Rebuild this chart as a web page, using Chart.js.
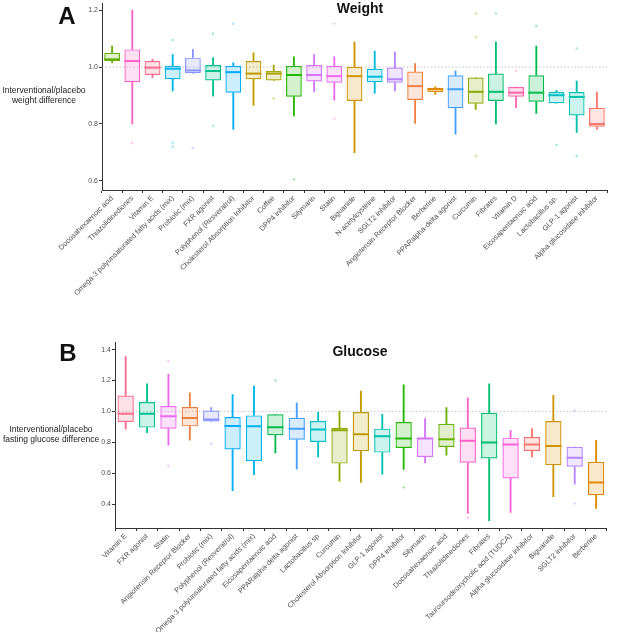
<!DOCTYPE html>
<html>
<head>
<meta charset="utf-8">
<script src="https://cdn.jsdelivr.net/npm/chart.js@4.4.1/dist/chart.umd.min.js"></script>
<style>
  body { margin: 0; background: #fff; overflow: hidden; }
  .panel { position: absolute; left: 0; width: 617px; }
  #panelA { top: -7px; height: 333px; }
  #panelB { top: 330px; height: 302px; }
</style>
</head>
<body>
<div class="panel" id="panelA"><canvas id="weightChart"></canvas></div>
<div class="panel" id="panelB"><canvas id="glucoseChart"></canvas></div>
<script>
// ---------- A: weight ----------
const weightDrugs = [
  "Docosahexaenoic acid", "Thiazolidinediones", "Vitamin E",
  "Omega-3 polyunsaturated fatty acids (mix)", "Probiotic (mix)", "FXR agonist",
  "Polyphenol (Resveratrol)", "Cholesterol Absorption Inhibitor", "Coffee",
  "DPP4 inhibitor", "Silymarin", "Statin", "Biguanide", "N-acetylcysteine",
  "SGLT2 inhibitor", "Angiotensin Receptor Blocker", "Berberine",
  "PPARalpha-delta agonist", "Curcumin", "Fibrates", "Vitamin D",
  "Eicosapentaenoic acid", "Lactobacillus sp.", "GLP-1 agonist",
  "Alpha glucosidase inhibitor"
];
const weightLow    = [1.015, 0.800, 0.963, 0.916, 0.978, 0.898, 0.781, 0.865, 0.953, 0.828, 0.913, 0.884, 0.699, 0.908, 0.916, 0.802, 0.904, 0.764, 0.851, 0.800, 0.857, 0.837, 0.873, 0.770, 0.781];
const weightQ1     = [1.021, 0.947, 0.972, 0.957, 0.978, 0.953, 0.910, 0.957, 0.953, 0.896, 0.949, 0.945, 0.881, 0.947, 0.945, 0.884, 0.912, 0.855, 0.871, 0.881, 0.896, 0.878, 0.873, 0.830, 0.790];
const weightMedian = [1.027, 1.021, 0.998, 0.994, 0.988, 0.986, 0.982, 0.977, 0.977, 0.972, 0.972, 0.968, 0.968, 0.966, 0.957, 0.933, 0.922, 0.922, 0.913, 0.913, 0.910, 0.910, 0.901, 0.895, 0.800];
const weightQ3     = [1.050, 1.062, 1.021, 1.004, 1.033, 1.007, 1.004, 1.021, 0.986, 1.004, 1.007, 1.004, 1.001, 0.994, 0.998, 0.984, 0.927, 0.971, 0.963, 0.977, 0.930, 0.971, 0.912, 0.912, 0.857];
const weightHigh   = [1.074, 1.200, 1.027, 1.044, 1.062, 1.033, 1.015, 1.050, 1.007, 1.036, 1.044, 1.036, 1.088, 1.056, 1.053, 1.012, 0.931, 0.986, 0.963, 1.088, 0.930, 1.074, 0.918, 0.951, 0.912];
const weightOutliers = [
  [], [0.732], [], [1.095, 0.734, 0.720], [0.715], [1.117, 0.793], [1.152], [], [0.890],
  [0.606], [], [1.153, 0.819], [], [], [], [], [], [], [1.188, 1.105, 0.688], [1.188],
  [0.986], [1.144], [0.726], [1.065, 0.688], []
];
const weightTicks = [0.6, 0.8, 1.0, 1.2];

// ---------- B: fasting glucose ----------
const glucoseDrugs = [
  "Vitamin E", "FXR agonist", "Statin", "Angiotensin Receptor Blocker", "Probiotic (mix)",
  "Polyphenol (Resveratrol)", "Omega-3 polyunsaturated fatty acids (mix)",
  "Eicosapentaenoic acid", "PPARalpha-delta agonist", "Lactobacillus sp", "Curcumin",
  "Cholesterol Absorption Inhibitor", "GLP-1 agonist", "DPP4 inhibitor", "Silymarin",
  "Docosahexaenoic acid", "Thiazolidinediones", "Fibrates",
  "Tauroursodeoxycholic acid (TUDCA)", "Alpha glucosidase inhibitor", "Biguanide",
  "SGLT2 inhibitor", "Berberine"
];
const glucoseLow    = [0.884, 0.862, 0.781, 0.813, 0.935, 0.486, 0.591, 0.731, 0.626, 0.705, 0.548, 0.540, 0.594, 0.624, 0.667, 0.716, 0.340, 0.292, 0.346, 0.705, 0.447, 0.529, 0.372];
const glucoseQ1     = [0.931, 0.895, 0.888, 0.903, 0.935, 0.753, 0.677, 0.845, 0.817, 0.802, 0.662, 0.742, 0.733, 0.763, 0.705, 0.770, 0.667, 0.695, 0.566, 0.744, 0.652, 0.641, 0.458];
const glucoseMedian = [0.985, 0.985, 0.968, 0.957, 0.948, 0.905, 0.903, 0.897, 0.888, 0.882, 0.877, 0.852, 0.839, 0.824, 0.824, 0.819, 0.809, 0.798, 0.785, 0.785, 0.776, 0.699, 0.540];
const glucoseQ3     = [1.103, 1.060, 1.034, 1.028, 1.006, 0.963, 0.974, 0.981, 0.959, 0.938, 0.892, 0.996, 0.888, 0.931, 0.830, 0.920, 0.895, 0.991, 0.830, 0.834, 0.938, 0.770, 0.673];
const glucoseHigh   = [1.355, 1.178, 1.239, 1.120, 1.024, 1.108, 1.163, 0.981, 1.056, 0.996, 1.002, 1.131, 0.981, 1.172, 0.953, 1.024, 1.088, 1.178, 0.877, 0.888, 1.103, 0.770, 0.813];
const glucoseOutliers = [
  [], [], [1.325, 0.647], [], [0.791], [], [], [1.200], [], [], [], [], [], [0.508], [],
  [], [0.312], [], [], [], [], [1.006, 0.404], []
];
const glucoseTicks = [0.4, 0.6, 0.8, 1.0, 1.2, 1.4];

const referenceValue = 1.0;

// every intervention, alphabetical, gets one hue of the default ggplot palette
const allDrugs = [
  "Alpha glucosidase inhibitor", "Angiotensin Receptor Blocker", "Berberine", "Biguanide",
  "Cholesterol Absorption Inhibitor", "Coffee", "Curcumin", "Docosahexaenoic acid",
  "DPP4 inhibitor", "Eicosapentaenoic acid", "Fibrates", "FXR agonist", "GLP-1 agonist",
  "Lactobacillus sp.", "N-acetylcysteine", "Omega-3 polyunsaturated fatty acids (mix)",
  "Polyphenol (Resveratrol)", "PPARalpha-delta agonist", "Probiotic (mix)", "SGLT2 inhibitor",
  "Silymarin", "Statin", "Tauroursodeoxycholic acid (TUDCA)", "Thiazolidinediones",
  "Vitamin D", "Vitamin E"
];

// hcl(h, c, l) -> rgb, same maths as R's hcl()
function hcl(h, c, l) {
  const hr = h * Math.PI / 180;
  const u = c * Math.cos(hr), v = c * Math.sin(hr);
  const Y = 100 * Math.pow((l + 16) / 116, 3);
  const t = 13 * l;
  const uu = u / t + 0.1978398, vv = v / t + 0.4683363;
  const X = 9 * Y * uu / (4 * vv);
  const Z = -X / 3 - 5 * Y + 3 * Y / vv;
  const g = (x) => x > 0.00304 ? 1.055 * Math.pow(x, 1 / 2.4) - 0.055 : 12.92 * x;
  const to = (x) => Math.round(255 * Math.min(1, Math.max(0, g(x / 100))));
  return [
    to(3.240479 * X - 1.537150 * Y - 0.498535 * Z),
    to(-0.969256 * X + 1.875992 * Y + 0.041556 * Z),
    to(0.055648 * X - 0.204043 * Y + 1.057311 * Z)
  ];
}

function drugColor(name, alpha) {
  let i = allDrugs.indexOf(name);
  if (i < 0) i = allDrugs.indexOf(name + ".");
  const rgb = hcl(15 + i * 360 / allDrugs.length, 100, 65);
  return `rgba(${rgb[0]},${rgb[1]},${rgb[2]},${alpha})`;
}

const font = "'Liberation Sans', Arial, sans-serif";

// dotted line at 1.0 plus the panel letter, title and y caption
const panelText = {
  id: 'panelText',
  beforeDatasetsDraw(chart) {
    const { ctx, chartArea, scales } = chart;
    const y = scales.y.getPixelForValue(referenceValue);
    ctx.save();
    ctx.strokeStyle = '#b5b5b5';
    ctx.lineWidth = 0.8;
    ctx.setLineDash([1.5, 2]);
    ctx.beginPath();
    ctx.moveTo(chartArea.left, y);
    ctx.lineTo(chartArea.right, y);
    ctx.stroke();
    ctx.restore();
  },
  afterDraw(chart, args, opts) {
    const ctx = chart.ctx;
    ctx.save();
    ctx.textAlign = 'center';
    ctx.textBaseline = 'middle';
    ctx.fillStyle = '#111';
    ctx.font = `bold 24px ${font}`;
    ctx.fillText(opts.letter, opts.letterX, opts.letterY);
    ctx.font = `bold 14px ${font}`;
    ctx.fillText(opts.title, opts.titleX, opts.titleY);
    ctx.font = `8.5px ${font}`;
    ctx.fillStyle = '#1a1a1a';
    opts.caption.forEach((line, k) => ctx.fillText(line, opts.captionX, opts.captionY + k * 10));
    ctx.restore();
  }
};

function boxChart(canvasId, drugs, low, q1, med, q3, high, outliers, ticks, dims, text) {
  const line = drugs.map(d => drugColor(d, 1));
  const points = [], pointColors = [];
  outliers.forEach((vals, i) => vals.forEach(v => {
    points.push({ x: drugs[i], y: v });
    pointColors.push(drugColor(drugs[i], 0.35));
  }));

  return new Chart(document.getElementById(canvasId), {
    data: {
      labels: drugs,
      datasets: [
        {
          type: 'line', data: med, showLine: false,
          pointStyle: 'line', pointRadius: dims.half, pointHoverRadius: dims.half,
          pointBorderWidth: 2, pointBorderColor: line
        },
        {
          type: 'bar', data: drugs.map((d, i) => [q1[i], q3[i]]), grouped: false,
          backgroundColor: drugs.map(d => drugColor(d, 0.2)), borderColor: line,
          borderWidth: 1.2, borderSkipped: false,
          barPercentage: dims.box, categoryPercentage: 1
        },
        {
          type: 'bar', data: drugs.map((d, i) => [low[i], q1[i]]), grouped: false,
          backgroundColor: line, barThickness: 1.2
        },
        {
          type: 'bar', data: drugs.map((d, i) => [q3[i], high[i]]), grouped: false,
          backgroundColor: line, barThickness: 1.2
        },
        {
          type: 'line', data: points, showLine: false,
          pointRadius: 1.3, pointBorderWidth: 0, pointBackgroundColor: pointColors
        }
      ]
    },
    options: {
      responsive: true,
      maintainAspectRatio: false,
      animation: false,
      events: [],
      layout: { padding: { top: dims.top, right: 5, left: 0, bottom: 0 } },
      plugins: {
        legend: { display: false },
        tooltip: { enabled: false },
        panelText: text
      },
      scales: {
        x: {
          type: 'category',
          offset: true,
          afterFit: (s) => { s.height = dims.xHeight; },
          border: { display: true, color: '#333', width: 1 },
          grid: { display: true, drawOnChartArea: false, drawTicks: true, tickLength: 3, color: '#333' },
          ticks: {
            autoSkip: false, minRotation: 45, maxRotation: 45, padding: 1,
            color: '#4d4d4d', font: { family: font, size: 7.3 }
          }
        },
        y: {
          min: dims.min, max: dims.max,
          afterFit: (s) => { s.width = dims.yWidth; },
          afterBuildTicks: (s) => { s.ticks = ticks.map(v => ({ value: v })); },
          border: { display: true, color: '#333', width: 1 },
          grid: { display: true, drawOnChartArea: false, drawTicks: true, tickLength: 3, color: '#333' },
          ticks: {
            padding: 1, color: '#4d4d4d', font: { family: font, size: 7 },
            callback: (v) => Number(v).toFixed(1)
          }
        }
      }
    },
    plugins: [panelText]
  });
}

boxChart('weightChart', weightDrugs, weightLow, weightQ1, weightMedian, weightQ3, weightHigh,
  weightOutliers, weightTicks,
  { min: 0.568, max: 1.225, top: 3, xHeight: 136, yWidth: 102, box: 0.78, half: 8 },
  { letter: 'A', letterX: 67, letterY: 24, title: 'Weight', titleX: 360, titleY: 16,
    caption: ['Interventional/placebo', 'weight difference'], captionX: 44, captionY: 98 });

boxChart('glucoseChart', glucoseDrugs, glucoseLow, glucoseQ1, glucoseMedian, glucoseQ3, glucoseHigh,
  glucoseOutliers, glucoseTicks,
  { min: 0.245, max: 1.449, top: 12, xHeight: 104, yWidth: 115, box: 0.76, half: 8.2 },
  { letter: 'B', letterX: 68, letterY: 24, title: 'Glucose', titleX: 360, titleY: 22.5,
    caption: ['Interventional/placebo', 'fasting glucose difference'], captionX: 51, captionY: 100 });
</script>
</body>
</html>
